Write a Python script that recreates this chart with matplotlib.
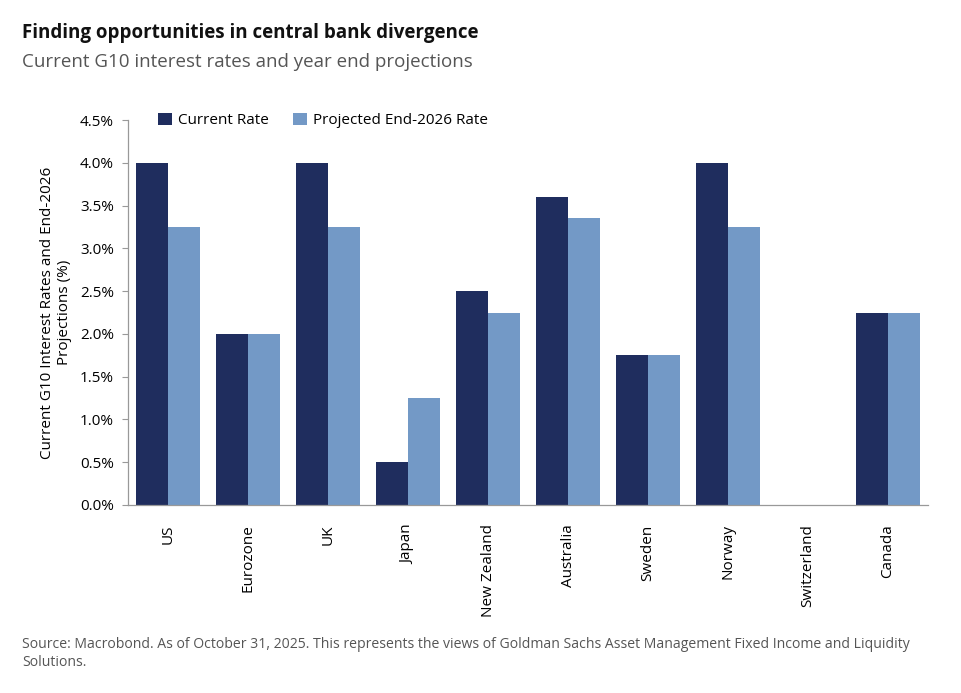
import matplotlib
matplotlib.use("Agg")
import matplotlib.pyplot as plt
import numpy as np
from matplotlib.ticker import FuncFormatter

# data
countries = ["US", "Eurozone", "UK", "Japan", "New Zealand", "Australia",
             "Sweden", "Norway", "Switzerland", "Canada"]
current = [4.0, 2.0, 4.0, 0.5, 2.5, 3.6, 1.75, 4.0, 0.0, 2.25]
projected = [3.25, 2.0, 3.25, 1.25, 2.25, 3.35, 1.75, 3.25, 0.0, 2.25]

dark = "#1f2d5e"
light = "#7399c6"

plt.rcParams['font.family'] = ['Open Sans', 'DejaVu Sans']

fig = plt.figure(figsize=(9.61, 6.93), dpi=100)
ax = fig.add_axes([0.1332, 0.2713, 0.8325, 0.5555])

x = np.arange(len(countries))
w = 0.4
ax.bar(x - w/2, current, w, color=dark, label="Current Rate")
ax.bar(x + w/2, projected, w, color=light, label="Projected End-2026 Rate")

ax.set_xlim(-0.5, len(countries) - 0.5)
ax.set_ylim(0, 4.5)
ax.set_yticks(np.arange(0, 4.51, 0.5))
ax.yaxis.set_major_formatter(FuncFormatter(lambda v, p: f"{v:.1f}%"))
ax.set_xticks(x)
ax.set_xticklabels(countries, rotation=90, fontsize=11)
ax.tick_params(axis='x', length=0, pad=14)
ax.tick_params(axis='y', length=4, color='#999999', labelsize=11, pad=6)

for s in ['top', 'right']:
    ax.spines[s].set_visible(False)
for s in ['left', 'bottom']:
    ax.spines[s].set_color('#999999')
    ax.spines[s].set_linewidth(0.9)

ax.set_ylabel("Current G10 Interest Rates and End-2026\nProjections (%)",
              fontsize=11, labelpad=6)

leg = ax.legend(loc='upper left', bbox_to_anchor=(0.02, 1.055), ncol=2,
                frameon=False, fontsize=11, handlelength=0.9,
                handleheight=0.9, handletextpad=0.4, columnspacing=1.6)

fig.text(0.023, 0.953, "Finding opportunities in central bank divergence",
         fontsize=13.5, fontweight='bold', color='#111111', va='center')
fig.text(0.023, 0.91, "Current G10 interest rates and year end projections",
         fontsize=13.5, color='#555555', va='center')
fig.text(0.023, 0.057, "Source: Macrobond. As of October 31, 2025. This represents the views of "
         "Goldman Sachs Asset Management Fixed Income and Liquidity\nSolutions.",
         fontsize=10.1, color='#555555', va='center', linespacing=1.35)

fig.savefig("out.png", dpi=100)
